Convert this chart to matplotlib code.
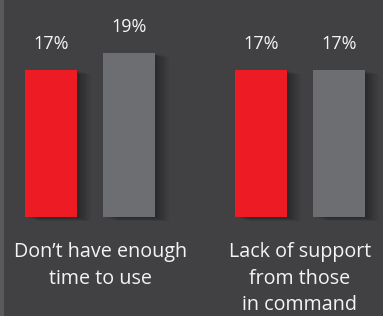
import matplotlib.pyplot as plt
import numpy as np

plt.rcParams['font.family'] = ['Open Sans', 'DejaVu Sans']

categories = ["Don\u2019t have enough\ntime to use", "Lack of support\nfrom those\nin command"]
series_a = [17, 17]
series_b = [19, 17]
labels_a = ["17%", "17%"]
labels_b = ["19%", "17%"]

bg = "#414143"
red = "#ed1c24"
grey = "#6d6e71"

fig = plt.figure(figsize=(3.83, 3.16), dpi=100, facecolor=bg)
ax = fig.add_axes([0, 0, 1, 1])
ax.set_facecolor(bg)

gap = 2.69
width = 0.667
groups = np.arange(len(categories)) * gap
pos_a = groups
pos_b = groups + 1

# soft shadow on the right of every bar
for k in range(1, 9):
    for pos, vals in ((pos_a, series_a), (pos_b, series_b)):
        ax.bar(pos + k * 0.022, np.array(vals) + 0.0, width=width, bottom=-k * 0.06,
               color="black", alpha=0.045, linewidth=0, zorder=1)

ax.bar(pos_a, series_a, width=width, color=red, zorder=3, linewidth=0)
ax.bar(pos_b, series_b, width=width, color=grey, zorder=3, linewidth=0)

for pos, vals, labs in ((pos_a, series_a, labels_a), (pos_b, series_b, labels_b)):
    for x, v, t in zip(pos, vals, labs):
        ax.annotate(t, (x, v), xytext=(0, 15), textcoords="offset points",
                    ha="center", va="baseline", color="#f4f4f4", fontsize=13, zorder=4)

label_x = [groups[0] + 0.5 + 0.13, groups[1] + 0.5]
for x, c in zip(label_x, categories):
    ax.annotate(c, (x, 0), xytext=(0, -18), textcoords="offset points",
                ha="center", va="top", color="#f4f4f4", fontsize=14.2,
                linespacing=1.45, zorder=4)

# lighter strip on the left edge
ax.axvspan(-0.654, -0.654 + 4 / 78, color="#58595b", zorder=5, linewidth=0)

ax.set_xlim(-0.654, 4.256)
ax.set_ylim(-11.45, 25.09)
ax.axis("off")

fig.savefig("out.png", dpi=100, facecolor=bg)
